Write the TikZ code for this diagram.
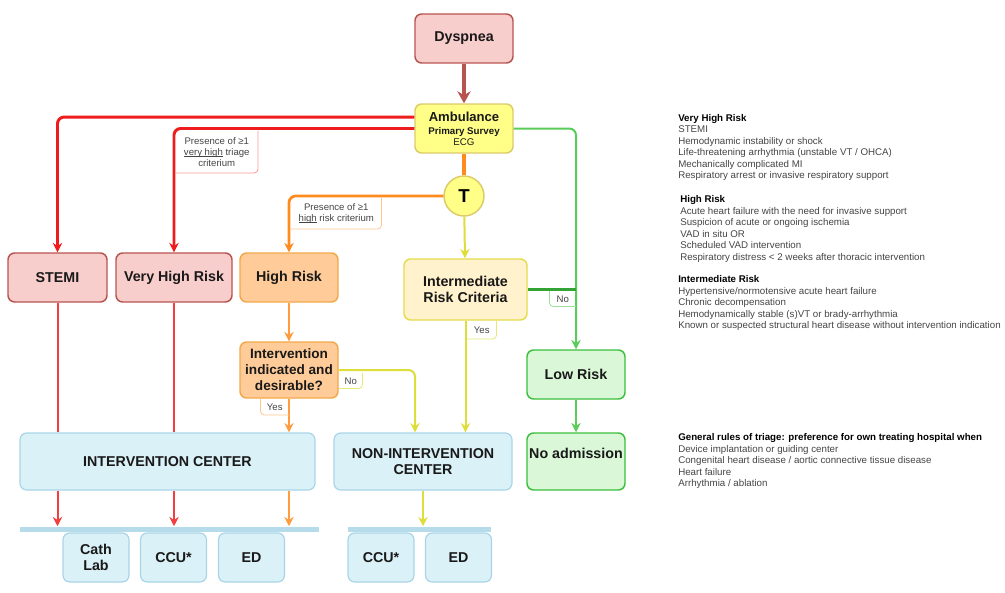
\documentclass[tikz,border=0pt]{standalone}
\usepackage{fontspec}
\setmainfont{Liberation Sans}
\usetikzlibrary{arrows.meta, positioning}
\definecolor{rFill}{HTML}{F8CECC}
\definecolor{rLine}{HTML}{B85450}
\definecolor{rArrow}{HTML}{EE1C1C}
\definecolor{oFill}{HTML}{FFCC99}
\definecolor{oLine}{HTML}{F2A84A}
\definecolor{oArrow}{HTML}{FF8A1E}
\definecolor{yFill}{HTML}{FFFF88}
\definecolor{yLine}{HTML}{DCCB6A}
\definecolor{iFill}{HTML}{FFF2CC}
\definecolor{iLine}{HTML}{E4DC4C}
\definecolor{yArrow}{HTML}{DEDE3A}
\definecolor{gFill}{HTML}{DAF8D8}
\definecolor{gLine}{HTML}{3CC03C}
\definecolor{gArrow}{HTML}{5ACC5A}
\definecolor{bFill}{HTML}{DAF1F8}
\definecolor{bLine}{HTML}{A9D5E7}
\definecolor{txtGrey}{HTML}{444444}
\newcommand{\ulword}[1]{\setbox0\hbox{#1}\rlap{\rule[-1.3pt]{\wd0}{0.4pt}}#1}

\begin{document}
\begin{tikzpicture}[x=0.75pt, y=-0.75pt,
    box/.style={draw, rounded corners=5pt, line width=1.1pt, align=center, inner sep=2pt,
      text=black!90, font=\bfseries\fontsize{10.7}{12.4}\selectfont},
    redbox/.style={box, fill=rFill, draw=rLine, minimum height=36.75pt},
    orbox/.style={box, fill=oFill, draw=oLine, minimum width=73.5pt},
    grbox/.style={box, fill=gFill, draw=gLine, minimum width=73.5pt},
    bluebox/.style={box, fill=bFill, draw=bLine, line width=0.9pt},
    bar/.style={fill=bLine!85, inner sep=0pt, minimum height=3.75pt},
    tag/.style={inner sep=0pt, align=center, text=txtGrey, font=\fontsize{7.2}{8.3}\selectfont},
    notes/.style={anchor=north west, align=left, inner sep=0pt, text=txtGrey,
      font=\fontsize{7.3}{8.6}\selectfont},
    link/.style={line width=1.5pt, -{Stealth[length=7pt, width=7pt]}},
  ]
  \useasboundingbox (0,0) rectangle (1005,592);

  % entry
  \node[redbox, minimum width=73.5pt] (dysp) at (464,38.5) {Dyspnea};
  \node[box, fill=yFill, draw=yLine, minimum width=73.5pt, minimum height=36.75pt] (amb) at (464,128.5)
    {{\fontsize{9.8}{11}\selectfont Ambulance}\\[-2.6pt]{\fontsize{7.3}{8.4}\selectfont Primary Survey}\\[-4.2pt]{\fontsize{7.3}{8.4}\selectfont\mdseries ECG}};
  \node[circle, draw=yLine, fill=yFill, line width=1.1pt, minimum size=30pt, inner sep=0pt,
    font=\bfseries\fontsize{14}{14}\selectfont] (tri) at (464,196) {T};

  % risk levels
  \node[redbox, minimum width=74.25pt] (stemi) at (57.5,277.5) {STEMI};
  \node[redbox, minimum width=87pt] (vhr) at (174,277.5) {Very High Risk};
  \node[orbox, minimum height=36.75pt] (hr) at (289,277.5) {High Risk};
  \node[box, fill=iFill, draw=iLine, minimum width=92.25pt, minimum height=45.75pt] (imr) at (465.5,289.5) {Intermediate\\Risk Criteria};
  \node[grbox, minimum height=36.75pt] (low) at (576,374.5) {Low Risk};
  \node[orbox, minimum height=42pt, font=\bfseries\fontsize{10.2}{12}\selectfont] (ind) at (289,370) {Intervention\\indicated and\\desirable?};
  \node[grbox, inner sep=0pt, text height=19pt, text depth=23.75pt] (noadm) at (576,461.5) {No admission};

  % centers and wards
  \node[bluebox, minimum width=221.25pt, minimum height=42.75pt] (ic) at (167.5,461.5) {INTERVENTION CENTER};
  \node[bluebox, minimum width=133.5pt, minimum height=42.75pt] (nic) at (423,461.5) {NON-INTERVENTION\\CENTER};
  \node[bar, minimum width=224.25pt] (barL) at (169.5,529) {};
  \node[bar, minimum width=107.25pt] (barR) at (419.5,529) {};
  \foreach \nm/\lbl/\cx in {cath/{Cath\\Lab}/96, ccuL/{CCU*}/173.5, edL/ED/251.5, ccuR/{CCU*}/381, edR/ED/458.5}
    \node[bluebox, minimum width=49.5pt, minimum height=36.75pt] (\nm) at (\cx,557.5) {\lbl};

  % connectors
  \draw[link, draw=rLine, line width=2.6pt, -{Stealth[length=9pt, width=10pt]}] (dysp) -- (amb);
  \draw[draw=oArrow, line width=3pt] (amb) -- (tri);
  \draw[link, draw=rArrow, line width=2.2pt, rounded corners=5pt] ([yshift=8.6pt]amb.west) -| (stemi.north);
  \draw[link, draw=rArrow, line width=2.2pt, rounded corners=5pt] (amb.west) -| (vhr.north);
  \draw[link, draw=gArrow, rounded corners=5pt] (amb.east) -| (low.north);
  \draw[link, draw=oArrow, line width=2pt, rounded corners=5pt] (tri.west) -| (hr.north);
  \draw[link, draw=yArrow] (tri) -- (imr);
  \draw[draw=gLine!85!black, line width=1.6pt] (imr.east) -- (imr.east -| low.north);
  \draw[link, draw=yArrow] (imr.south) -- (imr.south |- nic.north);
  \draw[link, draw=gArrow] (low) -- (noadm);
  \draw[link, draw=oArrow!85] (hr) -- (ind);
  \draw[link, draw=oArrow!85] (ind.south) -- (ind.south |- ic.north);
  \draw[link, draw=yArrow, rounded corners=5pt] (ind.east) -| ([xshift=-6pt]nic.north);
  \foreach \src in {stemi, vhr} {
    \draw[draw=rArrow!85, line width=1.5pt] (\src.south) -- (\src.south |- ic.north);
    \draw[link, draw=rArrow!85] (\src.south |- ic.south) -- (\src.south |- barL.north);
  }
  \draw[link, draw=oArrow!85] (ind.south |- ic.south) -- (ind.south |- barL.north);
  \draw[link, draw=yArrow] (nic.south) -- (nic.south |- barR.north);

  % branch tags
  \node[tag, anchor=north west, minimum width=61.5pt, minimum height=31.5pt] (tagVH) at (175.5,130.5)
    {Presence of ≥1\\\ulword{very high} triage\\criterium};
  \draw[rArrow!45, line width=0.6pt, rounded corners=3pt] (tagVH.north east) |- (tagVH.south west);
  \node[tag, anchor=north west, minimum width=67.5pt, minimum height=23.25pt] (tagH) at (291,197.5)
    {Presence of ≥1\\\ulword{high} risk criterium};
  \draw[oArrow!50, line width=0.6pt, rounded corners=3pt] (tagH.north east) |- (tagH.south west);
  \node[tag, anchor=north east, minimum width=19.5pt, minimum height=11.25pt] (tagNoA) at (576,291) {No};
  \draw[gLine!50, line width=0.6pt, rounded corners=3pt] (tagNoA.north west) |- (tagNoA.south east);
  \node[tag, anchor=north west, minimum width=21.75pt, minimum height=13.5pt] (tagYesA) at (467,320.5) {Yes};
  \draw[yArrow!70, line width=0.6pt, rounded corners=3pt] (tagYesA.north east) |- (tagYesA.south west);
  \node[tag, anchor=north west, minimum width=17.25pt, minimum height=11.25pt] (tagNoB) at (339,373) {No};
  \draw[yArrow!70, line width=0.6pt, rounded corners=3pt] (tagNoB.north east) |- (tagNoB.south west);
  \node[tag, anchor=north east, minimum width=21pt, minimum height=12pt] (tagYesB) at (289,398.5) {Yes};
  \draw[oArrow!50, line width=0.6pt, rounded corners=3pt] (tagYesB.north west) |- (tagYesB.south east);

  % criteria lists
  \node[notes] (nVH) at (678,114) {\textcolor{black}{\bfseries Very High Risk}\\STEMI\\Hemodynamic instability or shock\\Life-threatening arrhythmia (unstable VT / OHCA)\\Mechanically complicated MI\\Respiratory arrest or invasive respiratory support};
  \node[notes] (nHR) at (680,195.5) {\textcolor{black}{\bfseries High Risk}\\Acute heart failure with the need for invasive support\\Suspicion of acute or ongoing ischemia\\VAD in situ OR\\Scheduled VAD intervention\\Respiratory distress < 2 weeks after thoracic intervention};
  \node[notes] (nIR) at (678,275.5) {\textcolor{black}{\bfseries Intermediate Risk}\\Hypertensive/normotensive acute heart failure\\Chronic decompensation\\Hemodynamically stable (s)VT or brady-arrhythmia\\Known or suspected structural heart disease without intervention indication};
  \node[notes] (nGR) at (678,433.5) {\textcolor{black}{\bfseries General rules of triage: preference for own treating hospital when}\\Device implantation or guiding center\\Congenital heart disease / aortic connective tissue disease\\Heart failure\\Arrhythmia / ablation};
\end{tikzpicture}
\end{document}
